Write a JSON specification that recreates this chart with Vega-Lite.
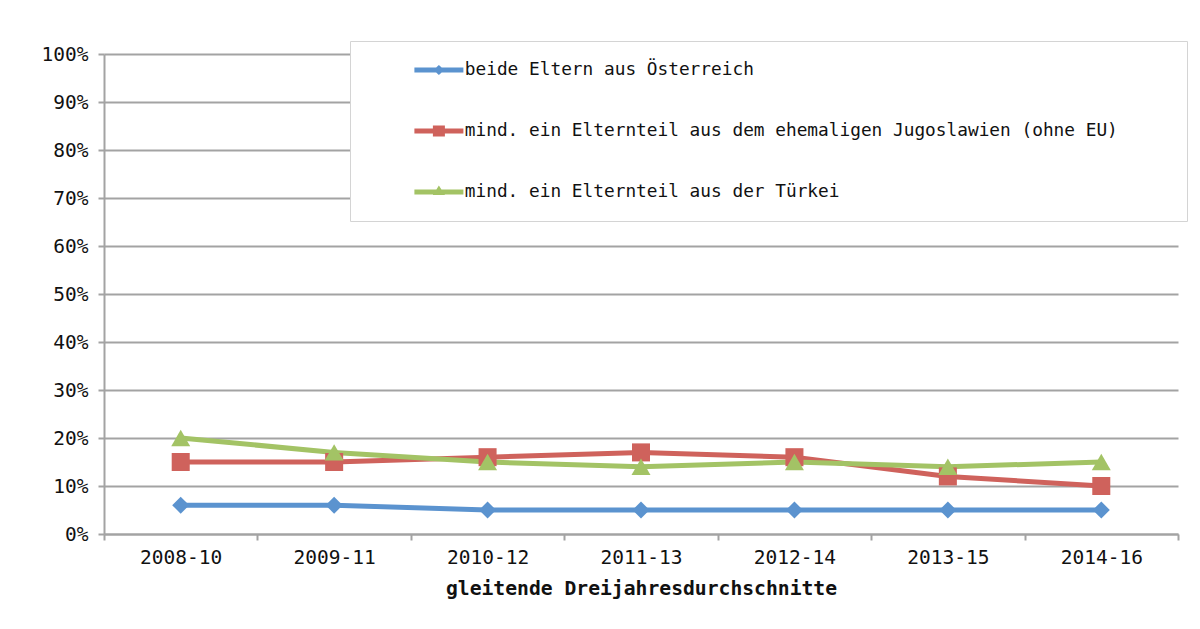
{
  "$schema": "https://vega.github.io/schema/vega-lite/v6.json",
  "width": 1074,
  "height": 480,
  "autosize": {"type": "none"},
  "padding": {"left": 104, "top": 54, "right": 22, "bottom": 95},
  "background": "white",
  "config": {
    "view": {"stroke": null},
    "axis": {
      "labelFont": "DejaVu Sans Mono",
      "labelFontSize": 19.5,
      "labelColor": "#111111",
      "domainColor": "#a3a3a3",
      "domainWidth": 2,
      "tickColor": "#a3a3a3",
      "tickWidth": 2,
      "tickSize": 6,
      "gridColor": "#a3a3a3",
      "gridWidth": 2
    }
  },
  "data": {
    "values": [
      {"period": "2008-10", "series": "beide Eltern aus Österreich", "value": 0.06},
      {"period": "2009-11", "series": "beide Eltern aus Österreich", "value": 0.06},
      {"period": "2010-12", "series": "beide Eltern aus Österreich", "value": 0.05},
      {"period": "2011-13", "series": "beide Eltern aus Österreich", "value": 0.05},
      {"period": "2012-14", "series": "beide Eltern aus Österreich", "value": 0.05},
      {"period": "2013-15", "series": "beide Eltern aus Österreich", "value": 0.05},
      {"period": "2014-16", "series": "beide Eltern aus Österreich", "value": 0.05},
      {"period": "2008-10", "series": "mind. ein Elternteil aus dem ehemaligen Jugoslawien (ohne EU)", "value": 0.15},
      {"period": "2009-11", "series": "mind. ein Elternteil aus dem ehemaligen Jugoslawien (ohne EU)", "value": 0.15},
      {"period": "2010-12", "series": "mind. ein Elternteil aus dem ehemaligen Jugoslawien (ohne EU)", "value": 0.16},
      {"period": "2011-13", "series": "mind. ein Elternteil aus dem ehemaligen Jugoslawien (ohne EU)", "value": 0.17},
      {"period": "2012-14", "series": "mind. ein Elternteil aus dem ehemaligen Jugoslawien (ohne EU)", "value": 0.16},
      {"period": "2013-15", "series": "mind. ein Elternteil aus dem ehemaligen Jugoslawien (ohne EU)", "value": 0.12},
      {"period": "2014-16", "series": "mind. ein Elternteil aus dem ehemaligen Jugoslawien (ohne EU)", "value": 0.10},
      {"period": "2008-10", "series": "mind. ein Elternteil aus der Türkei", "value": 0.20},
      {"period": "2009-11", "series": "mind. ein Elternteil aus der Türkei", "value": 0.17},
      {"period": "2010-12", "series": "mind. ein Elternteil aus der Türkei", "value": 0.15},
      {"period": "2011-13", "series": "mind. ein Elternteil aus der Türkei", "value": 0.14},
      {"period": "2012-14", "series": "mind. ein Elternteil aus der Türkei", "value": 0.15},
      {"period": "2013-15", "series": "mind. ein Elternteil aus der Türkei", "value": 0.14},
      {"period": "2014-16", "series": "mind. ein Elternteil aus der Türkei", "value": 0.15}
    ]
  },
  "encoding": {
    "x": {
      "field": "period",
      "type": "ordinal",
      "sort": null,
      "scale": {"type": "band", "paddingInner": 0, "paddingOuter": 0},
      "axis": {
        "title": "gleitende Dreijahresdurchschnitte",
        "titleFont": "DejaVu Sans Mono",
        "titleFontWeight": "bold",
        "titleFontSize": 19.7,
        "titleColor": "#111111",
        "titlePadding": 12,
        "labelAngle": 0,
        "labelPadding": 8,
        "tickBand": "extent",
        "grid": false
      }
    },
    "y": {
      "field": "value",
      "type": "quantitative",
      "scale": {"domain": [0, 1]},
      "axis": {
        "title": null,
        "values": [0, 0.1, 0.2, 0.3, 0.4, 0.5, 0.6, 0.7, 0.8, 0.9, 1],
        "format": ".0%",
        "grid": true,
        "labelPadding": 10
      }
    }
  },
  "layer": [
    {
      "mark": {"type": "line", "strokeWidth": 5},
      "encoding": {
        "color": {
          "field": "series",
          "type": "nominal",
          "scale": {
            "domain": ["beide Eltern aus Österreich", "mind. ein Elternteil aus dem ehemaligen Jugoslawien (ohne EU)", "mind. ein Elternteil aus der Türkei"],
            "range": ["#5b93cf", "#cf625c", "#a3c365"]
          },
          "legend": null
        }
      }
    },
    {
      "mark": {"type": "point", "filled": true, "opacity": 1, "strokeWidth": 0},
      "encoding": {
        "color": {
          "field": "series",
          "type": "nominal",
          "scale": {
            "domain": ["beide Eltern aus Österreich", "mind. ein Elternteil aus dem ehemaligen Jugoslawien (ohne EU)", "mind. ein Elternteil aus der Türkei"],
            "range": ["#5b93cf", "#cf625c", "#a3c365"]
          },
          "legend": null
        },
        "shape": {
          "field": "series",
          "type": "nominal",
          "scale": {
            "domain": ["beide Eltern aus Österreich", "mind. ein Elternteil aus dem ehemaligen Jugoslawien (ohne EU)", "mind. ein Elternteil aus der Türkei"],
            "range": ["diamond", "square", "triangle-up"]
          },
          "legend": null
        },
        "size": {
          "field": "series",
          "type": "ordinal",
          "scale": {
            "domain": ["beide Eltern aus Österreich", "mind. ein Elternteil aus dem ehemaligen Jugoslawien (ohne EU)", "mind. ein Elternteil aus der Türkei"],
            "range": [290, 360, 340]
          },
          "legend": null
        }
      }
    },
    {
      "mark": {"type": "point", "filled": true, "opacity": 0, "size": 100},
      "encoding": {
        "color": {
          "field": "series",
          "type": "nominal",
          "scale": {
            "domain": ["beide Eltern aus Österreich", "mind. ein Elternteil aus dem ehemaligen Jugoslawien (ohne EU)", "mind. ein Elternteil aus der Türkei"],
            "range": ["#5b93cf", "#cf625c", "#a3c365"]
          },
          "legend": {
            "orient": "none", "legendX": 246, "legendY": -13, "title": "\u00a0", "titleOrient": "right", "titlePadding": 49,
            "fillColor": "white", "strokeColor": "#d4d4d4", "padding": 20,
            "rowPadding": 42, "symbolSize": 100, "symbolOffset": 60, "labelOffset": 17,
            "symbolOpacity": 1, "symbolStrokeWidth": 0,
            "labelFont": "DejaVu Sans Mono", "labelFontSize": 17.8, "labelColor": "#111111", "labelLimit": 0
          }
        },
        "shape": {
          "field": "series",
          "type": "nominal",
          "scale": {
            "domain": ["beide Eltern aus Österreich", "mind. ein Elternteil aus dem ehemaligen Jugoslawien (ohne EU)", "mind. ein Elternteil aus der Türkei"],
            "range": [
              "M-4.9,-0.5L4.9,-0.5L4.9,0.5L-4.9,0.5ZM0,-1L1.1,0L0,1L-1.1,0Z",
              "M-4.9,-0.5L4.9,-0.5L4.9,0.5L-4.9,0.5ZM-1.2,-1.1L1.2,-1.1L1.2,1.1L-1.2,1.1Z",
              "M-4.9,-0.5L4.9,-0.5L4.9,0.5L-4.9,0.5ZM0,-1.3L1.2,0.6L-1.2,0.6Z"
            ]
          },
          "legend": {
            "orient": "none", "legendX": 246, "legendY": -13, "title": "\u00a0", "titleOrient": "right", "titlePadding": 49,
            "fillColor": "white", "strokeColor": "#d4d4d4", "padding": 20,
            "rowPadding": 42, "symbolSize": 100, "symbolOffset": 60, "labelOffset": 17,
            "symbolOpacity": 1, "symbolStrokeWidth": 0,
            "labelFont": "DejaVu Sans Mono", "labelFontSize": 17.8, "labelColor": "#111111", "labelLimit": 0
          }
        }
      }
    }
  ],
  "resolve": {"scale": {"shape": "independent", "color": "independent", "size": "independent"}}
}
